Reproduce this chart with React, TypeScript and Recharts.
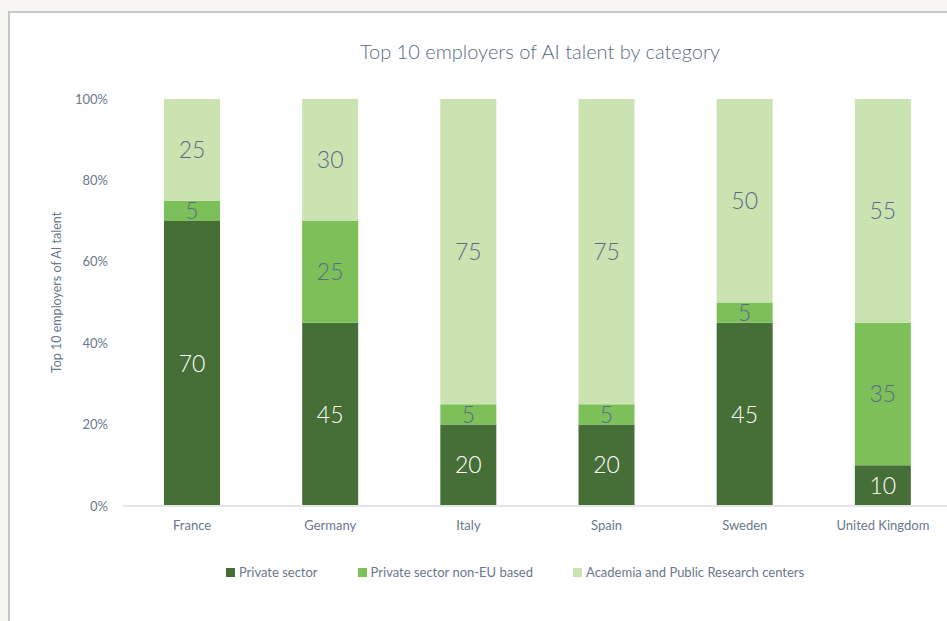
import React from "react";
import { BarChart, Bar, XAxis, YAxis, LabelList, Legend } from "recharts";

const countries = ["France", "Germany", "Italy", "Spain", "Sweden", "United Kingdom"];
const privateSector = [70, 45, 20, 20, 45, 10];
const privateNonEU = [5, 25, 5, 5, 5, 35];
const academia = [25, 30, 75, 75, 50, 55];
const yTicks = [0, 20, 40, 60, 80, 100];

const series = [
  { key: "private", name: "Private sector", color: "#466f37", label: "#ffffff" },
  { key: "nonEU", name: "Private sector non-EU based", color: "#7dc05a", label: "#5b6c87" },
  { key: "academia", name: "Academia and Public Research centers", color: "#cbe2b1", label: "#5b6c87" },
];

const data = countries.map((c, i) => ({
  country: c,
  private: privateSector[i],
  nonEU: privateNonEU[i],
  academia: academia[i],
}));

const FONT = "Lato, 'Open Sans', sans-serif";
const TEXT = "#69788c";

function LegendContent() {
  return (
    <div style={{ display: "flex", justifyContent: "center", fontFamily: FONT, fontSize: 13, color: TEXT }}>
      {series.map((s, i) => (
        <div key={s.key} style={{ display: "flex", alignItems: "center", marginLeft: i === 0 ? 0 : 40 }}>
          <span style={{ width: 9, height: 9, background: s.color, display: "inline-block", marginRight: 4 }} />
          <span>{s.name}</span>
        </div>
      ))}
    </div>
  );
}

const yLabel = (props: any) => {
  const vb = props.viewBox || {};
  const cy = vb.y + vb.height / 2 - 10;
  return (
    <text
      x={56}
      y={cy}
      transform={`rotate(-90, 56, ${cy})`}
      textAnchor="middle"
      dominantBaseline="central"
      fill={TEXT}
      fontSize={12.5}
      fontFamily={FONT}
    >
      Top 10 employers of AI talent
    </text>
  );
};

export default function App() {
  return (
    <div style={{ position: "absolute", left: 0, top: 0, width: 947, height: 621, overflow: "hidden", background: "#f8f7f3" }}>
      <div
        style={{
          position: "absolute",
          left: 8,
          top: 11,
          width: 1000,
          height: 700,
          background: "#ffffff",
          borderLeft: "2px solid #c8c8c8",
          borderTop: "2px solid #c8c8c8",
        }}
      />
      <div
        style={{
          position: "absolute",
          left: 140,
          width: 800,
          top: 39,
          textAlign: "center",
          fontFamily: FONT,
          fontSize: 20,
          fontWeight: 300,
          color: "#5a6a7e",
        }}
      >
        Top 10 employers of AI talent by category
      </div>
      <div style={{ position: "absolute", left: 0, top: 0 }}>
        <BarChart
          width={960}
          height={621}
          data={data}
          margin={{ top: 99, right: 8, left: 0, bottom: 69 }}
          barSize={56}
        >
          <XAxis
            dataKey="country"
            tickLine={false}
            axisLine={{ stroke: "#e4e4ea", strokeWidth: 2 }}
            tickMargin={9}
            tick={{ fill: TEXT, fontSize: 13, fontFamily: FONT }}
            interval={0}
            height={30}
          />
          <YAxis
            width={123}
            domain={[0, 100]}
            ticks={yTicks}
            tickFormatter={(v) => `${v}%`}
            axisLine={false}
            tickLine={false}
            tickMargin={9}
            tick={{ fill: TEXT, fontSize: 13, fontFamily: FONT }}
            label={yLabel}
          />
          <Legend
            content={<LegendContent />}
            wrapperStyle={{ left: 0, width: 1030, top: 564 }}
          />
          {series.map((s) => (
            <Bar key={s.key} dataKey={s.key} name={s.name} stackId="a" fill={s.color} isAnimationActive={false}>
              <LabelList
                dataKey={s.key}
                position="center"
                fill={s.label}
                fontSize={23}
                fontFamily={FONT}
                fontWeight={300}
              />
            </Bar>
          ))}
        </BarChart>
      </div>
    </div>
  );
}
